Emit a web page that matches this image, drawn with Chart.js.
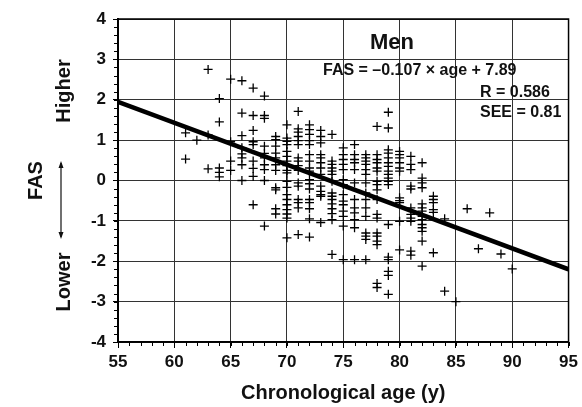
<!DOCTYPE html>
<html>
<head>
<meta charset="utf-8">
<script src="https://cdn.jsdelivr.net/npm/chart.js@4/dist/chart.umd.min.js"></script>
<style>
  html, body { margin: 0; padding: 0; background: #fff; }
  #wrap { width: 582px; height: 407px; }
</style>
</head>
<body>
<div id="wrap"><canvas id="fasChart"></canvas></div>
<script>
// ages (y) where the crosses sit, one column each
const ages = [61, 62, 63, 64, 65, 66, 67, 68, 69, 70, 71, 72, 73, 74, 75,
  76, 77, 78, 79, 80, 81, 82, 83, 84, 85, 86, 87, 88, 89, 90];

// FAS values, per age column
const fasByAge = [
  [1.18, 0.53],
  [1.0],
  [2.75, 1.13, 0.29],
  [2.03, 1.45, 0.31, 0.2, 0.09],
  [2.51, 0.96, 0.48, 0.25],
  [2.47, 1.67, 1.11, 0.81, 0.66, 0.56, 0.39, 0.0],
  [2.29, 1.61, 1.24, 0.96, 0.89, 0.48, 0.3, 0.1, -0.6],
  [2.09, 1.61, 1.54, 0.85, 0.67, 0.56, 0.39, 0.27, 0.0, -1.13],
  [1.09, 1.01, 0.85, 0.68, 0.56, 0.39, 0.25, -0.18, -0.23, -0.7, -0.83],
  [1.38, 1.05, 0.97, 0.89, 0.72, 0.6, 0.48, 0.37, 0.25, 0.19, -0.02, -0.17, -0.35, -0.47, -0.6, -0.72, -0.83, -0.93, -1.42],
  [1.71, 1.28, 1.2, 1.09, 0.99, 0.89, 0.56, 0.48, 0.37, 0.25, -0.06, -0.14, -0.47, -0.55, -0.68, -1.34],
  [1.38, 1.26, 1.14, 0.99, 0.89, 0.64, 0.48, 0.31, 0.23, 0.02, -0.08, -0.21, -0.47, -0.55, -0.7, -0.95, -1.4],
  [1.24, 1.09, 0.93, 0.64, 0.56, 0.44, 0.31, 0.15, -0.14, -0.27, -0.35, -0.39, -1.04],
  [1.14, 0.48, 0.4, 0.31, 0.23, 0.15, -0.02, -0.31, -0.39, -0.47, -0.58, -0.7, -0.82, -0.97, -1.83],
  [0.81, 0.64, 0.52, 0.4, 0.27, 0.02, -0.1, -0.35, -0.51, -0.6, -0.76, -0.89, -1.13, -1.96],
  [0.89, 0.64, 0.52, 0.44, 0.27, -0.06, -0.47, -0.68, -0.8, -0.97, -1.17, -1.96],
  [0.64, 0.56, 0.48, 0.4, 0.27, 0.15, -0.06, -0.31, -0.47, -0.68, -0.89, -1.3, -1.38, -1.46, -1.96],
  [1.34, 0.64, 0.52, 0.44, 0.31, 0.23, -0.02, -0.1, -0.23, -0.47, -0.84, -0.93, -1.3, -1.38, -1.5, -1.59, -2.55, -2.65],
  [1.69, 1.3, 0.76, 0.68, 0.56, 0.44, 0.35, 0.23, 0.15, 0.06, -0.02, -0.1, -1.09, -1.9, -1.96, -2.25, -2.35, -2.82],
  [0.72, 0.64, 0.56, 0.44, 0.31, 0.23, -0.43, -0.5, -0.55, -1.01, -1.72],
  [0.6, 0.4, 0.27, -0.14, -0.21, -0.68, -0.84, -0.93, -1.01, -1.75, -1.85],
  [0.44, 0.06, -0.06, -0.18, -0.58, -0.68, -0.76, -0.89, -0.97, -1.09, -1.17, -1.26, -1.5, -2.12],
  [-0.39, -0.47, -0.55, -0.72, -0.79, -1.79],
  [-0.95, -2.74],
  [-3.0],
  [-0.7],
  [-1.69],
  [-0.8],
  [-1.82],
  [-2.19]
];

// regression line end points
const lineAges = [55, 95];
const lineFAS = [1.95, -2.2];

const annotation = {
  title: 'Men',
  formula: 'FAS = \u20130.107 \u00d7 age + 7.89',
  r: 'R = 0.586',
  see: 'SEE = 0.81'
};

const FONT = '"Liberation Sans", Arial, Helvetica, sans-serif';

const points = [];
ages.forEach((a, i) => {
  fasByAge[i].forEach(v => points.push({ x: a, y: v }));
});

const extras = {
  id: 'extras',
  beforeDatasetsDraw(chart) {
    const { ctx, chartArea, scales } = chart;
    const x = scales.x, y = scales.y;
    ctx.save();
    ctx.strokeStyle = '#000';
    ctx.lineWidth = 1;
    // minor ticks on y (every 0.2)
    for (let v = -4; v <= 4.001; v += 0.2) {
      const py = Math.round(y.getPixelForValue(v)) + 0.5;
      ctx.beginPath();
      ctx.moveTo(chartArea.left - 4, py);
      ctx.lineTo(chartArea.left, py);
      ctx.stroke();
    }
    // minor ticks on x (every year)
    for (let v = 55; v <= 95; v += 1) {
      const px = Math.round(x.getPixelForValue(v)) + 0.5;
      ctx.beginPath();
      ctx.moveTo(px, chartArea.bottom);
      ctx.lineTo(px, chartArea.bottom + 4);
      ctx.stroke();
    }
    // frame
    ctx.lineWidth = 1.5;
    ctx.strokeRect(chartArea.left, chartArea.top, chartArea.right - chartArea.left, chartArea.bottom - chartArea.top);
    ctx.restore();
  },
  afterDraw(chart) {
    const { ctx } = chart;
    ctx.save();
    ctx.fillStyle = '#111';
    ctx.textBaseline = 'alphabetic';
    ctx.font = 'bold 22px ' + FONT;
    ctx.textAlign = 'center';
    ctx.fillText(annotation.title, 392, 49);
    ctx.font = 'bold 16px ' + FONT;
    ctx.textAlign = 'left';
    ctx.fillText(annotation.formula, 323, 75);
    ctx.fillText(annotation.r, 480, 97);
    ctx.fillText(annotation.see, 480, 117);

    // Higher / Lower with arrow
    ctx.font = 'bold 20px ' + FONT;
    ctx.textAlign = 'center';
    ctx.textBaseline = 'middle';
    [['Higher', 91], ['Lower', 282]].forEach(([t, cy]) => {
      ctx.save();
      ctx.translate(64, cy);
      ctx.rotate(-Math.PI / 2);
      ctx.fillText(t, 0, 0);
      ctx.restore();
    });
    ctx.strokeStyle = '#111';
    ctx.lineWidth = 1.2;
    ctx.beginPath();
    ctx.moveTo(61, 163);
    ctx.lineTo(61, 237);
    ctx.stroke();
    ctx.beginPath();
    ctx.moveTo(61, 161); ctx.lineTo(58.5, 168); ctx.lineTo(63.5, 168); ctx.closePath();
    ctx.moveTo(61, 239); ctx.lineTo(58.5, 232); ctx.lineTo(63.5, 232); ctx.closePath();
    ctx.fill();
    ctx.restore();
  }
};

new Chart(document.getElementById('fasChart'), {
  type: 'scatter',
  data: {
    datasets: [
      {
        data: points,
        pointStyle: 'cross',
        pointRadius: 4.5,
        borderColor: '#000',
        borderWidth: 1.3,
        backgroundColor: '#000'
      },
      {
        type: 'line',
        data: lineAges.map((a, i) => ({ x: a, y: lineFAS[i] })),
        borderColor: '#000',
        borderWidth: 4.5,
        pointRadius: 0,
        fill: false
      }
    ]
  },
  options: {
    responsive: true,
    maintainAspectRatio: false,
    animation: false,
    layout: { padding: { left: 0, right: 10, top: 19, bottom: 0 } },
    plugins: { legend: { display: false }, tooltip: { enabled: false } },
    scales: {
      x: {
        type: 'linear',
        min: 55,
        max: 95,
        afterFit: s => { s.height = 65; },
        ticks: {
          stepSize: 5,
          padding: 4,
          color: '#111',
          font: { family: FONT, size: 17, weight: 'bold' }
        },
        grid: { color: '#333', lineWidth: 1, tickLength: 6, tickColor: '#000' },
        border: { color: '#000', width: 1.5 },
        title: {
          display: true,
          text: 'Chronological age (y)',
          color: '#111',
          padding: { top: 0, bottom: 2 },
          font: { family: FONT, size: 20, weight: 'bold' }
        }
      },
      y: {
        type: 'linear',
        min: -4,
        max: 4,
        afterFit: s => { s.width = 118; },
        ticks: {
          stepSize: 1,
          padding: 7,
          color: '#111',
          font: { family: FONT, size: 17, weight: 'bold' }
        },
        grid: { color: '#333', lineWidth: 1, tickLength: 5, tickColor: '#000' },
        border: { color: '#000', width: 2 },
        title: {
          display: true,
          text: 'FAS',
          color: '#111',
          padding: { top: 24, bottom: 0 },
          font: { family: FONT, size: 20, weight: 'bold' }
        }
      }
    }
  },
  plugins: [extras]
});
</script>
</body>
</html>
